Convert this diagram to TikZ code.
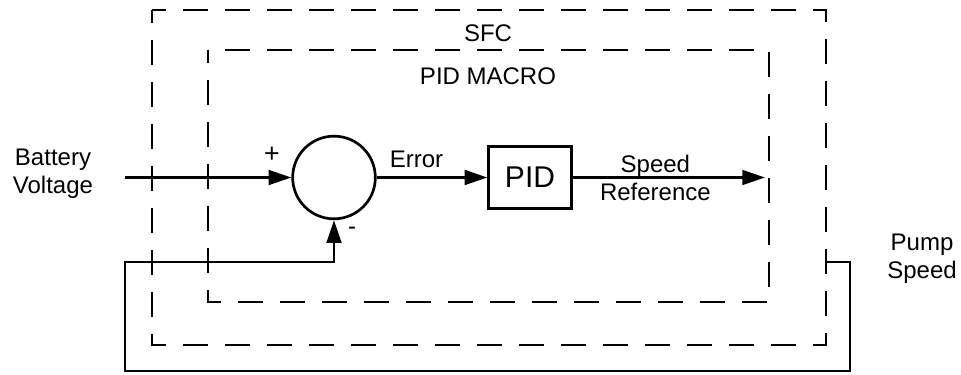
\documentclass[tikz,border=0pt]{standalone}
\usepackage{fontspec}
\setmainfont{Liberation Sans}
\usetikzlibrary{positioning}
\usetikzlibrary{arrows.meta}

\begin{document}
\begin{tikzpicture}[x=0.75pt,y=-0.75pt,
        line width=2pt,
        every node/.style={font=\fontsize{18}{21}\selectfont},
        frame/.style={draw, dash pattern=on 19pt off 12.5pt, dash phase=9pt},
        sumnode/.style={draw, circle, minimum size=62pt, inner sep=0pt},
        block/.style={draw, minimum width=62pt, minimum height=46.5pt, font=\fontsize{22.5}{26}\selectfont},
        sig/.style={-{Triangle[length=17pt,width=11pt]}},
        lbl/.style={align=center, inner sep=0pt}]
        \useasboundingbox (0,0) rectangle (961,375);

        % Frames
        \draw[frame] (152,10) rectangle (826,345);
        \draw[frame] (208,50) rectangle (769,302);
        \node[lbl] (sfc) at (488,33) {SFC};
        \node[lbl] (macro) at (488,76) {PID MACRO};

        % Nodes
        \node[sumnode]                      (sum) at (334,177.5) {};
        \node[block, right=83pt of sum]     (pid) {PID};
        \coordinate (vin)   at (125,177.5);
        \coordinate (sref)  at (765,177.5);
        \coordinate (fbout) at (826,262);

        \node[lbl] (batt) at (53,174) {Battery\\Voltage};
        \node[lbl] (pump) at (922,259) {Pump\\Speed};
        \node[lbl, font=\fontsize{20}{24}\selectfont] (plus) at (272,155) {+};
        \node[lbl] (minus) at (352,231) {-};

        % Signals
        \draw[sig] (vin) -- (sum.west);
        \draw[sig] (sum.east) -- (pid.west) node[lbl, pos=0.36, above=6pt] (err) {Error};
        \draw[sig] (pid.east) -- (sref) node[lbl, pos=0.43] (spd) {Speed\\Reference};
        \draw[sig] (fbout) -- ++(24,0) |- (125,371) -- (125,262) -| (sum.south);
\end{tikzpicture}
\end{document}
